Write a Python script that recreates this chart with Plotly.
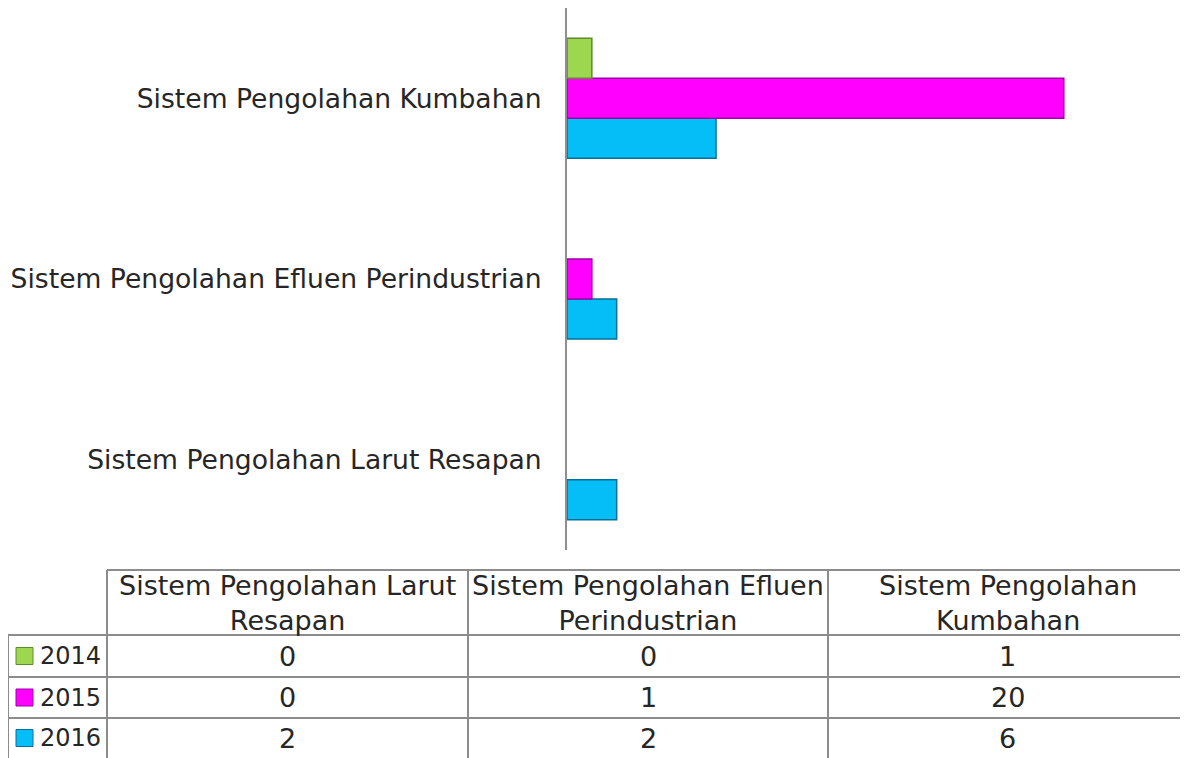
import plotly.graph_objects as go

# data
categories = ["Sistem Pengolahan Larut Resapan",
              "Sistem Pengolahan Efluen Perindustrian",
              "Sistem Pengolahan Kumbahan"]
table_headers = ["Sistem Pengolahan Larut<br>Resapan",
                 "Sistem Pengolahan Efluen<br>Perindustrian",
                 "Sistem Pengolahan<br>Kumbahan"]
years = ["2014", "2015", "2016"]
v2014 = [0, 0, 1]
v2015 = [0, 1, 20]
v2016 = [2, 2, 6]
values = [v2014, v2015, v2016]

colors = ["#9DD64F", "#FF00FF", "#05BDF7"]
edges = ["#5E8A2A", "#A000A8", "#0A6E96"]

# page has an 8px body margin, so work in window pixels and shift
OFF = 8
W, H = 1188 - OFF, 758 - OFF
FONT = "DejaVu Sans"
FS = 27
TXT = "#262626"
GRID = "#8c8c8c"

def px(x):
    return (x - OFF) / W

def py(y):
    return 1 - (y - OFF) / H

fig = go.Figure()
# add in reverse so 2014 sits on top within each group
for i in reversed(range(len(years))):
    fig.add_trace(go.Bar(
        y=categories, x=values[i], orientation="h", name=years[i],
        marker=dict(color=colors[i],
                    line=dict(color=edges[i], width=[1.5 if v > 0 else 0 for v in values[i]])),
        hoverinfo="x+name",
    ))

fig.update_layout(
    width=W, height=H,
    margin=dict(l=0, r=0, t=0, b=0),
    paper_bgcolor="white", plot_bgcolor="white",
    barmode="group", bargap=0.336, bargroupgap=0,
    showlegend=False,
    font=dict(family=FONT, size=FS, color=TXT),
    xaxis=dict(domain=[px(567), 1.0], range=[0, 25], visible=False),
    yaxis=dict(domain=[py(550), py(8)], type="category",
               categoryorder="array", categoryarray=categories,
               showline=True, linecolor="#8f8f8f", linewidth=2,
               showgrid=False, zeroline=False, ticks="",
               automargin=False, ticklabelstandoff=18,
               tickfont=dict(family=FONT, size=26.6, color=TXT)),
)

# data table below the chart
col_x = [8, 107, 468, 828, 1187]
row_y = [570, 635, 677, 718, 758]
line = dict(color=GRID, width=2)

# horizontal lines
fig.add_shape(type="line", xref="paper", yref="paper",
              x0=px(col_x[1]), x1=px(col_x[-1]), y0=py(row_y[0]), y1=py(row_y[0]), line=line)
for y in row_y[1:4]:
    fig.add_shape(type="line", xref="paper", yref="paper",
                  x0=px(col_x[0]), x1=px(col_x[-1]), y0=py(y), y1=py(y), line=line)
# vertical lines
fig.add_shape(type="line", xref="paper", yref="paper",
              x0=px(col_x[0]), x1=px(col_x[0]), y0=py(row_y[1]), y1=0, line=line)
for x in col_x[1:]:
    fig.add_shape(type="line", xref="paper", yref="paper",
                  x0=px(x), x1=px(x), y0=py(row_y[0]), y1=0, line=line)

# header cells
for j, h in enumerate(table_headers):
    fig.add_annotation(xref="paper", yref="paper",
                       x=px((col_x[j + 1] + col_x[j + 2]) / 2), y=py((row_y[0] + row_y[1]) / 2),
                       text=h, showarrow=False, xanchor="center", yanchor="middle",
                       font=dict(family=FONT, size=FS, color=TXT))

# body cells
for i, yr in enumerate(years):
    yc = py((row_y[i + 1] + row_y[i + 2]) / 2)
    # legend key
    fig.add_shape(type="rect", xref="paper", yref="paper",
                  x0=px(16), x1=px(33), y0=yc - 8.5 / H, y1=yc + 8.5 / H,
                  fillcolor=colors[i], line=dict(color=edges[i], width=1))
    fig.add_annotation(xref="paper", yref="paper", x=px(103), y=yc, text=yr,
                       showarrow=False, xanchor="right", yanchor="middle",
                       font=dict(family=FONT, size=24, color=TXT))
    for j in range(len(categories)):
        fig.add_annotation(xref="paper", yref="paper",
                           x=px((col_x[j + 1] + col_x[j + 2]) / 2), y=yc,
                           text=str(values[i][j]), showarrow=False,
                           xanchor="center", yanchor="middle",
                           font=dict(family=FONT, size=FS, color=TXT))

fig.write_html("out.html")
